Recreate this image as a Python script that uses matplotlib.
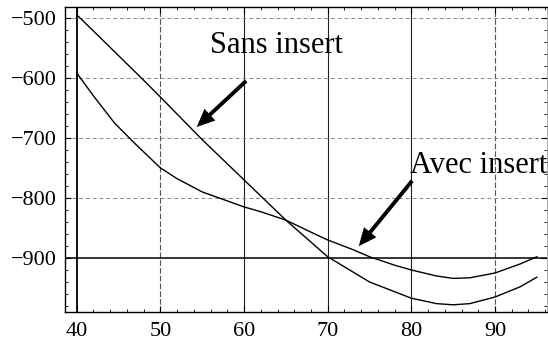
import matplotlib
matplotlib.use("Agg")
import matplotlib.pyplot as plt
from matplotlib.ticker import MultipleLocator
from matplotlib.patches import FancyArrowPatch

# ---- data ----
x_sans = [40, 42, 45, 48, 50, 55, 60, 65, 70, 75, 80, 83, 85, 87, 90, 93, 95]
y_sans = [-495, -522, -563, -604, -632, -703, -770, -837, -898, -940, -967, -976, -978, -976, -965, -948, -932]

x_avec = [40, 42, 44.5, 47, 50, 52, 55, 58, 60, 62, 65, 68, 70, 73, 75, 78, 80, 83, 85, 87, 90, 93, 95]
y_avec = [-592, -630, -675, -710, -750, -768, -790, -805, -815, -823, -837, -857, -870, -886, -898, -912, -920, -930, -934, -933, -925, -910, -898]

x_ticks = [40, 50, 60, 70, 80, 90]
y_ticks = [-500, -600, -700, -800, -900]

label_sans = "Sans insert"
label_avec = "Avec insert"

plt.rcParams['font.family'] = ['Liberation Serif', 'DejaVu Serif']

fig = plt.figure(figsize=(5.48, 3.48), dpi=100)
ax = fig.add_axes([0.1186, 0.1034, 0.8794, 0.8766])
ax.set_xlim(38.6, 96.2)
ax.set_ylim(-990, -482)

# grid lines
for xv in x_ticks:
    if xv == 40:
        continue
    if xv in (50, 90):
        ax.axvline(xv, color='#555555', lw=0.8, ls=(0, (5, 2)), zorder=1)
    else:
        ax.axvline(xv, color='#222222', lw=0.8, ls='-', zorder=1)
for yv in y_ticks:
    if yv == -900:
        continue
    ax.axhline(yv, color='#888888', lw=0.7, ls=(0, (4, 3)), zorder=1)
# axes lines (Mathematica style origin)
ax.axvline(40, color='black', lw=1.3, zorder=2)
ax.axhline(-900, color='black', lw=1.1, zorder=2)

ax.plot(x_sans, y_sans, color='black', lw=1.0, zorder=3)
ax.plot(x_avec, y_avec, color='black', lw=1.0, zorder=3)

# annotations
ax.text(55.9, -558, label_sans, fontsize=22, ha='left', va='baseline', zorder=4)
ax.text(79.8, -758, label_avec, fontsize=22, ha='left', va='baseline', zorder=4)
style = 'Simple,tail_width=0.28,head_width=1.15,head_length=1.3'
ax.add_patch(FancyArrowPatch((60.5, -602), (54.1, -685), arrowstyle=style,
                             mutation_scale=10, color='black', lw=0, zorder=5))
ax.add_patch(FancyArrowPatch((80.3, -768), (73.5, -884), arrowstyle=style,
                             mutation_scale=10, color='black', lw=0, zorder=5))

ax.set_xticks(x_ticks)
ax.set_yticks(y_ticks)
ax.set_xticklabels([str(v) for v in x_ticks])
ax.set_yticklabels(["\u2212" + str(-v) for v in y_ticks])
ax.xaxis.set_minor_locator(MultipleLocator(2))
ax.yaxis.set_minor_locator(MultipleLocator(20))
ax.tick_params(which='major', direction='in', length=4, width=0.8, labelsize=16,
               top=True, right=True)
ax.tick_params(which='minor', direction='in', length=2, width=0.6, top=True, right=True)
ax.tick_params(axis='x', pad=7)
ax.tick_params(axis='y', pad=6)
for s in ['left', 'bottom', 'top']:
    ax.spines[s].set_linewidth(1.0)
ax.spines['right'].set_linewidth(0.5)
ax.spines['right'].set_color('#888888')

fig.savefig('out.png', dpi=100)
